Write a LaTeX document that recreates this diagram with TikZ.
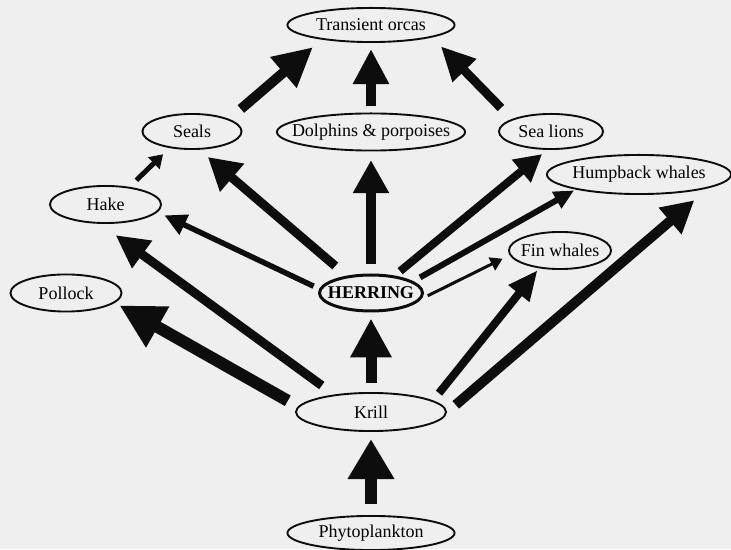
\documentclass[tikz,border=0pt]{standalone}
\usepackage{fontspec}
\usepackage{xcolor}
\usepackage{tikz}
\setmainfont{Liberation Serif}
\usetikzlibrary{arrows.meta}
\usetikzlibrary{shapes.geometric}
\definecolor{efefef}{rgb}{0.937,0.937,0.937}
\definecolor{qqqqqq}{rgb}{0.05,0.05,0.05}
\tikzset{species/.style={ellipse,draw=qqqqqq,line width=1.9pt,outer sep=0pt,inner xsep=-60pt,inner ysep=0pt,font=\fontsize{18}{20}\selectfont}}
\tikzset{feeds/.style n args={3}{draw=qqqqqq,line width=#1,-{Triangle[length=#2,width=#3]}}}

\begin{document}
\begin{tikzpicture}[line cap=butt,line join=miter,x=1pt,y=1pt]
            \useasboundingbox (0,0) rectangle (731.,549.);
            \clip(0,0) rectangle (731.,549.);
            \fill[color=efefef] (0,0) rectangle (731.,549.);
            \node[species,minimum width=167.1pt,minimum height=34.1pt] (orcas) at (371.,524.) {Transient orcas};
            \node[species,minimum width=99.1pt,minimum height=35.1pt] (seals) at (192.,417.5) {Seals};
            \node[species,minimum width=188.1pt,minimum height=37.1pt] (dolphins) at (371.,417.) {Dolphins \& porpoises};
            \node[species,minimum width=104.1pt,minimum height=35.1pt] (sealions) at (551.,417.5) {Sea lions};
            \node[species,minimum width=184.1pt,minimum height=39.1pt] (humpback) at (639.,374.5) {Humpback whales};
            \node[species,minimum width=111.1pt,minimum height=37.1pt] (hake) at (105.5,344.5) {Hake};
            \node[species,minimum width=102.1pt,minimum height=37.1pt] (finwhales) at (560.,298.5) {Fin whales};
            \node[species,minimum width=111.1pt,minimum height=37.1pt] (pollock) at (66.,256.) {Pollock};
            \node[species,line width=3pt,minimum width=103pt,minimum height=36pt] (herring) at (371.,256.) {\textbf{HERRING}};
            \node[species,minimum width=150.1pt,minimum height=38.1pt] (krill) at (371.,137.) {Krill};
            \node[species,minimum width=167.1pt,minimum height=34.1pt] (phyto) at (371.,16.) {Phytoplankton};
            % to the orcas
            \draw[feeds={10pt}{39pt}{38pt},shorten <=16.3pt,shorten >=12.7pt] (seals.18.3) -- (orcas.-164.5);
            \draw[feeds={9.5pt}{35pt}{34pt},shorten <=7.5pt,shorten >=7pt] (dolphins) -- (orcas);
            \draw[feeds={9pt}{34pt}{31pt},shorten <=16.4pt,shorten >=13.3pt] (sealions.163.2) -- (orcas.-11.3);
            \draw[feeds={5pt}{13pt}{16pt},shorten <=10.7pt,shorten >=10pt] (hake.36.1) -- (seals.-144.7);
            % from the herring
            \draw[feeds={9pt}{32pt}{35pt},shorten <=16.7pt,shorten >=12.5pt] (herring.145.9) -- (seals.-70.4);
            \draw[feeds={9.5pt}{33pt}{34pt},shorten <=10.5pt,shorten >=9.5pt] (herring) -- (dolphins);
            \draw[feeds={8pt}{27pt}{28pt},shorten <=8.8pt,shorten >=7.9pt] (herring.36.1) -- (sealions.-99.8);
            \draw[feeds={6pt}{20pt}{18pt},shorten <=9.4pt,shorten >=3pt] (herring.15.3) -- (humpback.-167.2);
            \draw[feeds={5.5pt}{22pt}{21pt},shorten <=7.6pt,shorten >=8.5pt] (herring.176.7) -- (hake.-8.6);
            \draw[feeds={3pt}{12pt}{14pt},shorten <=12pt,shorten >=8.7pt] (herring.-10) -- (finwhales.185.1);
            % from the krill
            \draw[feeds={11pt}{39pt}{39pt},shorten <=9.7pt,shorten >=7.5pt] (krill) -- (herring);
            \draw[feeds={9pt}{33pt}{32pt},shorten <=16.5pt,shorten >=20.7pt] (krill.155.6) -- (hake.-110.4);
            \draw[feeds={12pt}{44pt}{44pt},shorten <=12.5pt,shorten >=6.2pt] (krill.176.9) -- (pollock.-11.5);
            \draw[feeds={8pt}{30pt}{25pt},shorten <=10.2pt,shorten >=3.4pt] (krill.10.3) -- (finwhales.-140);
            \draw[feeds={10pt}{32pt}{33pt},shorten <=13pt,shorten >=20.4pt] (krill.-1.1) -- (humpback.-10.2);
            \draw[feeds={12.7pt}{40pt}{44pt},shorten <=12pt,shorten >=8pt] (phyto) -- (krill);
\end{tikzpicture}
\end{document}
